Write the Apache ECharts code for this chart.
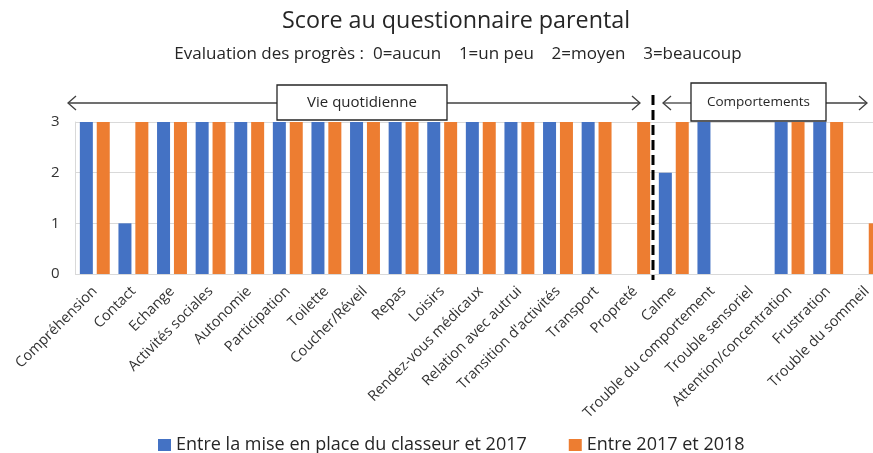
<!DOCTYPE html>
<html>
<head>
<meta charset="utf-8">
<script src="https://cdn.jsdelivr.net/npm/echarts@6/dist/echarts.min.js"></script>
<style>
html,body{margin:0;padding:0;background:#fff;}
#main{width:873px;height:453px;}
</style>
</head>
<body>
<div id="main"></div>
<script>
const categories = ["Compréhension","Contact","Echange","Activités sociales","Autonomie","Participation","Toilette","Coucher/Réveil","Repas","Loisirs","Rendez-vous médicaux","Relation avec autrui","Transition d'activités","Transport","Propreté","Calme","Trouble du comportement","Trouble sensoriel","Attention/concentration","Frustration","Trouble du sommeil"];
const seriesNames = ["Entre la mise en place du classeur et 2017","Entre 2017 et 2018"];
const valuesPeriod1 = [3,1,3,3,3,3,3,3,3,3,3,3,3,3,0,2,3,0,3,3,0];
const valuesPeriod2 = [3,3,3,3,3,3,3,3,3,3,3,3,3,3,3,3,0,0,3,3,1];
const yTickValues = [0,1,2,3];
const titleText = "Score au questionnaire parental";
const subtitleText = "Evaluation des progrès :  0=aucun    1=un peu    2=moyen    3=beaucoup";
const groupLabels = ["Vie quotidienne","Comportements"];
const splitAfterIndex = 14;

const FONT = "Open Sans";
const chart = echarts.init(document.getElementById('main'), null, {renderer:'canvas'});

const option = {
  animation:false,
  backgroundColor:'#ffffff',
  title:[
    {text:titleText, left:451, top:5, textAlign:'center',
     textStyle:{fontFamily:FONT,fontSize:23.3,fontWeight:'normal',color:'#262626'}},
    {text:subtitleText, left:453, top:41, textAlign:'center',
     textStyle:{fontFamily:FONT,fontSize:17,fontWeight:'normal',color:'#262626'}}
  ],
  legend:{
    data:seriesNames, left:153, top:431, icon:'rect', itemWidth:13, itemHeight:12, itemGap:42,
    textStyle:{fontFamily:FONT,fontSize:18,color:'#262626',padding:[0,0,0,0]}
  },
  grid:{left:75.5, width:810.6, top:122, bottom:179, outerBoundsMode:'none'},
  xAxis:{
    type:'category', data:categories,
    axisTick:{show:false},
    axisLine:{lineStyle:{color:'#d9d9d9',width:1}},
    axisLabel:{interval:0, rotate:45, margin:15, fontFamily:FONT, fontSize:14.5, color:'#333333'}
  },
  yAxis:{
    type:'value', min:yTickValues[0], max:yTickValues[yTickValues.length-1], interval:1,
    axisLine:{show:true,lineStyle:{color:'#d9d9d9'}},
    axisTick:{show:false},
    splitLine:{lineStyle:{color:'#d9d9d9',width:1}},
    axisLabel:{fontFamily:FONT,fontSize:15,color:'#333333',margin:16}
  },
  series:[
    {name:seriesNames[0], type:'bar', data:valuesPeriod1, itemStyle:{color:'#4472C4'},
     barWidth:13, barGap:'30%'},
    {name:seriesNames[1], type:'bar', data:valuesPeriod2, itemStyle:{color:'#ED7D31'},
     barWidth:13, barGap:'30%'}
  ]
};
chart.setOption(option);

const xa = chart.convertToPixel({xAxisIndex:0}, splitAfterIndex);
const xb = chart.convertToPixel({xAxisIndex:0}, splitAfterIndex+1);
const splitX = (xa + xb) / 2 - 1.5;
const arrowY = 103;
function arrowHead(x, y, dir){
  return {type:'polyline', shape:{points:[[x - dir*8, y-7],[x,y],[x - dir*8, y+7]]},
    style:{stroke:'#404040', lineWidth:1.3, fill:null}, z:10};
}
const graphics = [
  {type:'line', shape:{x1:splitX,y1:95,x2:splitX,y2:280}, style:{stroke:'#000',lineWidth:3,lineDash:[10,5]}, z:20},
  {type:'line', shape:{x1:68,y1:arrowY,x2:277,y2:arrowY}, style:{stroke:'#404040',lineWidth:1.3}, z:10},
  arrowHead(68, arrowY, -1),
  {type:'line', shape:{x1:447,y1:arrowY,x2:640,y2:arrowY}, style:{stroke:'#404040',lineWidth:1.3}, z:10},
  arrowHead(640, arrowY, 1),
  {type:'rect', shape:{x:277,y:85,width:170,height:35}, style:{fill:'#fff',stroke:'#262626',lineWidth:1.3}, z:11},
  {type:'text', x:362, y:103, style:{text:groupLabels[0], fontFamily:FONT, fontSize:15, fill:'#262626', align:'center', verticalAlign:'middle'}, z:12},
  {type:'line', shape:{x1:663,y1:arrowY,x2:691,y2:arrowY}, style:{stroke:'#404040',lineWidth:1.3}, z:10},
  arrowHead(663, arrowY, -1),
  {type:'line', shape:{x1:826,y1:arrowY,x2:867,y2:arrowY}, style:{stroke:'#404040',lineWidth:1.3}, z:10},
  arrowHead(867, arrowY, 1),
  {type:'rect', shape:{x:691,y:83,width:135,height:38}, style:{fill:'#fff',stroke:'#262626',lineWidth:1.3}, z:11},
  {type:'text', x:758.5, y:102, style:{text:groupLabels[1], fontFamily:FONT, fontSize:13.5, fill:'#262626', align:'center', verticalAlign:'middle'}, z:12}
];
chart.setOption({graphic:graphics});
</script>
</body>
</html>
